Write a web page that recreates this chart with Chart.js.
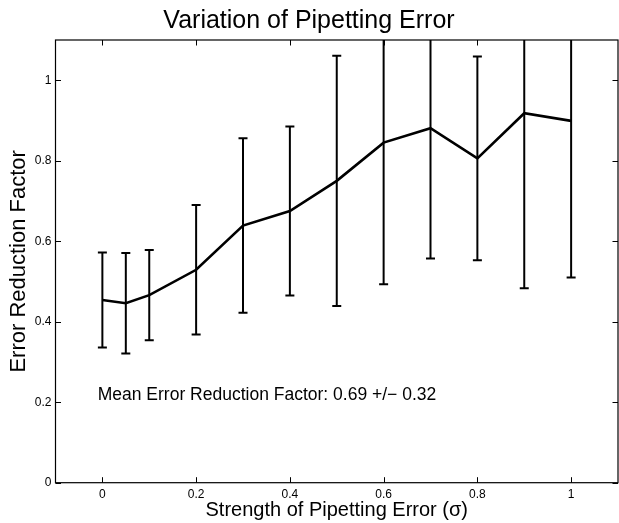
<!DOCTYPE html>
<html><head><meta charset="utf-8">
<script src="https://cdn.jsdelivr.net/npm/chart.js@4.4.1/dist/chart.umd.min.js"></script>
<style>html,body{margin:0;padding:0;background:#fff;overflow:hidden}#wrap{width:619px;height:523px}</style>
</head><body><div id="wrap"><canvas id="c" width="619" height="523"></canvas></div>
<script>
const strengths = [0, 0.05, 0.1, 0.2, 0.3, 0.4, 0.5, 0.6, 0.7, 0.8, 0.9, 1.0];
const meanFactor = [0.454, 0.446, 0.466, 0.529, 0.639, 0.675, 0.750, 0.845, 0.881, 0.806, 0.918, 0.899];
const stdFactor = [0.118, 0.125, 0.112, 0.161, 0.217, 0.210, 0.311, 0.352, 0.324, 0.253, 0.435, 0.389];
const xTickValues = [0, 0.2, 0.4, 0.6, 0.8, 1];
const xTickLabels = ['0', '0.2', '0.4', '0.6', '0.8', '1'];
const yTickValues = [0, 0.2, 0.4, 0.6, 0.8, 1];
const yTickLabels = ['0', '0.2', '0.4', '0.6', '0.8', '1'];
const titleText = 'Variation of Pipetting Error';
const xLabel = 'Strength of Pipetting Error (\u03c3)';
const yLabel = 'Error Reduction Factor';
const noteText = 'Mean Error Reduction Factor: 0.69 +/\u2212 0.32';
const notePos = {x: -0.01, y: 0.218};

const FONT = '"Liberation Sans", Arial, Helvetica, sans-serif';

const errorBarPlugin = {
  id: 'errorBars',
  afterDatasetsDraw(chart) {
    const ctx = chart.ctx, xs = chart.scales.x, ys = chart.scales.y, a = chart.chartArea;
    ctx.save();
    ctx.beginPath();
    ctx.rect(a.left, a.top, a.right - a.left, a.bottom - a.top);
    ctx.clip();
    ctx.strokeStyle = '#000';
    ctx.lineWidth = 2;
    ctx.lineCap = 'butt';
    strengths.forEach((s, i) => {
      const px = xs.getPixelForValue(s);
      const yTop = ys.getPixelForValue(meanFactor[i] + stdFactor[i]);
      const yBot = ys.getPixelForValue(meanFactor[i] - stdFactor[i]);
      ctx.beginPath();
      ctx.moveTo(px, yTop); ctx.lineTo(px, yBot);
      ctx.moveTo(px - 4.5, yTop); ctx.lineTo(px + 4.5, yTop);
      ctx.moveTo(px - 4.5, yBot); ctx.lineTo(px + 4.5, yBot);
      ctx.stroke();
    });
    ctx.restore();
  }
};

const framePlugin = {
  id: 'frame',
  afterDraw(chart) {
    const ctx = chart.ctx, xs = chart.scales.x, ys = chart.scales.y, a = chart.chartArea;
    ctx.save();
    ctx.strokeStyle = '#000';
    ctx.lineWidth = 1;
    const tl = 5.5;
    ctx.beginPath();
    xTickValues.forEach(v => {
      const px = Math.round(xs.getPixelForValue(v)) + 0.5;
      ctx.moveTo(px, a.bottom); ctx.lineTo(px, a.bottom - tl);
      ctx.moveTo(px, a.top); ctx.lineTo(px, a.top + tl);
    });
    yTickValues.forEach(v => {
      const py = Math.round(ys.getPixelForValue(v)) + 0.5;
      ctx.moveTo(a.left, py); ctx.lineTo(a.left + tl, py);
      ctx.moveTo(a.right, py); ctx.lineTo(a.right - tl, py);
    });
    ctx.stroke();
    ctx.lineWidth = 1.2;
    ctx.strokeRect(a.left, a.top, a.right - a.left, a.bottom - a.top);
    ctx.fillStyle = '#000';
    ctx.font = '17.5px ' + FONT;
    ctx.textAlign = 'left';
    ctx.textBaseline = 'middle';
    ctx.fillText(noteText, xs.getPixelForValue(notePos.x), ys.getPixelForValue(notePos.y));
    ctx.restore();
  }
};

new Chart(document.getElementById('c'), {
  type: 'line',
  data: {
    datasets: [{
      data: strengths.map((s, i) => ({x: s, y: meanFactor[i]})),
      borderColor: '#000',
      borderWidth: 2.6,
      pointRadius: 0,
      tension: 0,
      fill: false
    }]
  },
  options: {
    responsive: false,
    animation: false,
    devicePixelRatio: 1,
    layout: {padding: {top: 0, right: 1, bottom: 0, left: 0}},
    plugins: {
      legend: {display: false},
      tooltip: {enabled: false},
      title: {
        display: true,
        text: titleText,
        color: '#000',
        font: {family: FONT, size: 25, weight: 'normal', lineHeight: 1.2},
        padding: {top: 6, bottom: 4}
      }
    },
    scales: {
      x: {
        type: 'linear',
        min: -0.1,
        max: 1.1,
        afterBuildTicks: s => { s.ticks = xTickValues.map(v => ({value: v})); },
        afterFit: s => { s.height = 40.3; },
        grid: {display: false, drawTicks: false},
        border: {display: false},
        ticks: {
          color: '#000',
          font: {family: FONT, size: 12},
          padding: 5,
          maxRotation: 0,
          callback: (v) => xTickLabels[xTickValues.indexOf(v)] ?? ''
        },
        title: {
          display: true,
          text: xLabel,
          color: '#000',
          font: {family: FONT, size: 20, lineHeight: 1.2},
          padding: {top: 0, bottom: 1}
        }
      },
      y: {
        type: 'linear',
        min: 0,
        max: 1.1,
        afterBuildTicks: s => { s.ticks = yTickValues.map(v => ({value: v})); },
        afterFit: s => { s.width = 55.5; },
        grid: {display: false, drawTicks: false},
        border: {display: false},
        ticks: {
          color: '#000',
          font: {family: FONT, size: 12},
          padding: 4,
          callback: (v) => yTickLabels[yTickValues.indexOf(v)] ?? ''
        },
        title: {
          display: true,
          text: yLabel,
          color: '#000',
          font: {family: FONT, size: 22, lineHeight: 1.2},
          padding: {top: 5.8, bottom: 0}
        }
      }
    }
  },
  plugins: [errorBarPlugin, framePlugin]
});
</script>
</body></html>
